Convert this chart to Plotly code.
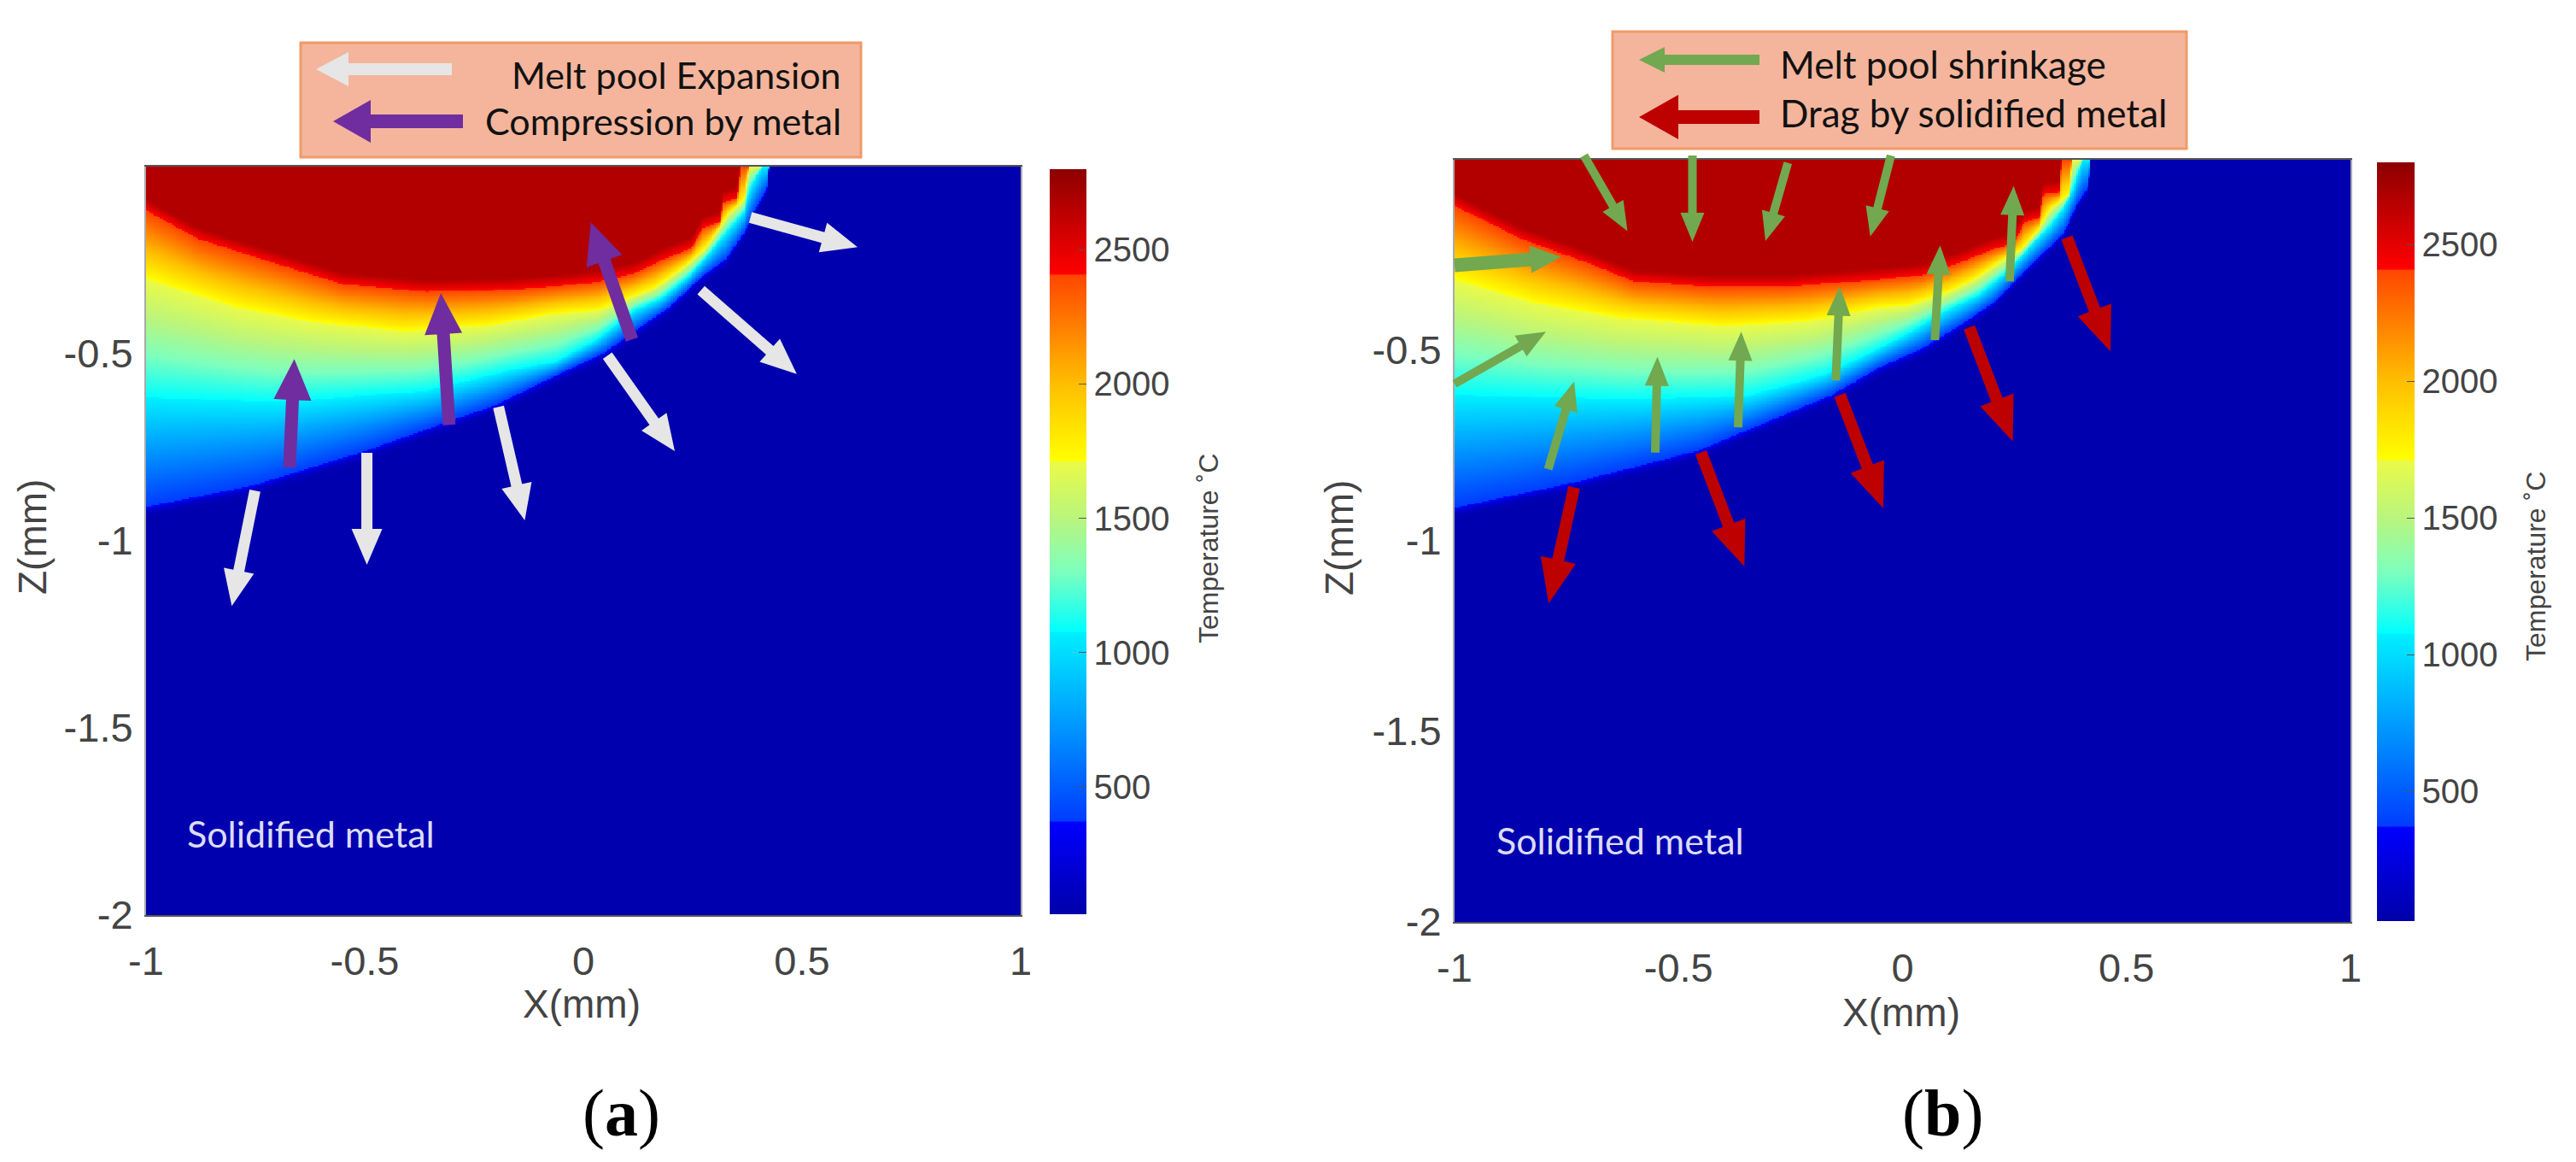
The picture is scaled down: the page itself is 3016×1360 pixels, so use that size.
import numpy as np
import plotly.graph_objects as go

# ---------- data ----------
x_tick_vals = [-1, -0.5, 0, 0.5, 1]
x_tick_text = ["-1", "-0.5", "0", "0.5", "1"]
z_tick_vals = [-0.5, -1, -1.5, -2]
z_tick_text = ["-0.5", "-1", "-1.5", "-2"]
cb_tick_vals = [500, 1000, 1500, 2000, 2500]

# isotherm positions (X, Z) in mm, panel a
a_red_x = [-1, -.88, -.70, -.55, -.36, -.17, -.064, .033, .117, .184, .248, .273, .313, .320, .352, .359]
a_red_z = [-.117, -.194, -.26, -.314, -.334, -.329, -.320, -.308, -.285, -.247, -.217, -.164, -.148, -.096, -.084, 0]
a_yel_x = [-1, -.79, -.62, -.41, -.22, -.064, .033, .098, .164, .229, .281, .307, .332, .369, .379]
a_yel_z = [-.30, -.377, -.415, -.44, -.425, -.393, -.384, -.354, -.324, -.269, -.217, -.171, -.126, -.087, 0]
a_cya_x = [-1, -.7, -.36, -.17, -.064, .033, .117, .176, .242, .287, .326, .369, .379, .408]
a_cya_z = [-.617, -.63, -.60, -.545, -.521, -.461, -.384, -.354, -.292, -.233, -.178, -.119, -.064, 0]
a_blu_x = [-1, -.757, -.504, -.2, -.064, .047, .131, .195, .273, .326, .371, .391, .420, .424]
a_blu_z = [-.91, -.853, -.762, -.637, -.559, -.498, -.429, -.377, -.292, -.247, -.171, -.119, -.057, 0]

# isotherm positions (X, Z) in mm, panel b
b_red_x = [-1, -.855, -.70, -.6, -.43, -.26, -.052, .043, .125, .201, .247, .272, .306, .314, .352, .354]
b_red_z = [-.12, -.206, -.272, -.319, -.333, -.333, -.314, -.303, -.271, -.235, -.220, -.164, -.152, -.090, -.085, 0]
b_yel_x = [-1, -.82, -.634, -.396, -.21, -.052, .011, .100, .157, .214, .266, .304, .329, .371, .380]
b_yel_z = [-.314, -.376, -.414, -.437, -.423, -.388, -.383, -.348, -.316, -.271, -.235, -.182, -.130, -.092, 0]
b_cya_x = [-1, -.6, -.345, -.175, -.052, .030, .094, .171, .234, .291, .329, .361, .380, .401]
b_cya_z = [-.617, -.63, -.62, -.565, -.495, -.444, -.399, -.354, -.294, -.220, -.175, -.123, -.078, 0]
b_blu_x = [-1, -.736, -.455, -.157, -.052, .043, .125, .201, .258, .310, .361, .386, .415, .420]
b_blu_z = [-.914, -.848, -.763, -.617, -.545, -.496, -.437, -.377, -.309, -.249, -.191, -.123, -.070, 0]

iso_values = [2670, 2408, 1712, 1076, 370, 120, 40]

# arrows: tail X, tail Z, tip X, tip Z (mm)
a_white = [(-.751, -.866, -.804, -1.174), (-.495, -.765, -.495, -1.064), (-.194, -.642, -.134, -.945),
           (.055, -.505, .209, -.760), (.269, -.330, .488, -.554), (.382, -.136, .627, -.215)]
a_purple = [(-.672, -.804, -.661, -.514), (-.307, -.690, -.326, -.338), (.111, -.462, .017, -.149)]
b_green = [(-.711, .011, -.614, -.187), (-.469, .011, -.469, -.215), (-.256, -.008, -.306, -.213),
           (-.026, .011, -.072, -.201), (-1, -.588, -.796, -.451),
           (-.791, -.812, -.733, -.582), (-.552, -.768, -.547, -.517), (-.367, -.702, -.360, -.451),
           (-.149, -.579, -.140, -.333), (.072, -.473, .084, -.225), (.239, -.319, .248, -.069)]
b_green_thick = [(-1, -.277, -.762, -.255)]
b_red = [(-.733, -.860, -.79, -1.164), (-.450, -.768, -.353, -1.067), (-.140, -.617, -.043, -.914),
         (.149, -.440, .246, -.739), (.367, -.204, .464, -.503)]

a_legend_labels = ["Melt pool Expansion", "Compression by metal"]
b_legend_labels = ["Melt pool shrinkage", "Drag by solidified metal"]

# ---------- layout constants (pixels) ----------
W, H = 3016, 1360
A = dict(l=171, r=1195, t=195, b=1071, cl=1229, cr=1272, ct=198, cb=1070)
B = dict(l=1703, r=2752, t=187, b=1079, cl=2783, cr=2827, ct=190, cb=1078)
ZMIN, ZMAX = 25, 2800
WHITE, PURPLE, GREEN, RED = "#e6e6e6", "#6f2da0", "#72a84f", "#bd0000"
SANS, LEG = "Liberation Sans", "Lato"
GREY = "#444444"


def n(v):
    return (v - ZMIN) / (ZMAX - ZMIN)


colorscale = [
    [0, "rgb(0,0,170)"], [n(369), "rgb(0,0,255)"], [n(371), "rgb(0,60,255)"],
    [n(1075), "rgb(0,240,255)"], [n(1077), "rgb(0,255,255)"], [n(1300), "rgb(125,255,190)"],
    [n(1500), "rgb(185,245,125)"], [n(1710), "rgb(235,250,70)"], [n(1713), "rgb(255,255,0)"],
    [n(2000), "rgb(255,190,0)"], [n(2406), "rgb(255,70,0)"], [n(2409), "rgb(255,0,0)"],
    [1, "rgb(140,0,0)"],
]


def field(rx, rz, yx, yz, cx, cz, bx, bz):
    xs = np.linspace(-1, 1, 601)
    ds = np.linspace(0.0015, 2, 500)
    red = -np.interp(xs, rx, rz)
    yel = -np.interp(xs, yx, yz)
    cya = -np.interp(xs, cx, cz)
    blu = -np.interp(xs, bx, bz)
    out = np.zeros((ds.size, xs.size), dtype=int)
    for j in range(xs.size):
        pts = [max(red[j] - .03, 0), red[j], yel[j], cya[j], blu[j], blu[j] + .012, blu[j] + .03]
        pts = np.maximum.accumulate(np.array(pts) + np.arange(7) * 1e-5)
        if blu[j] <= 0:
            out[:, j] = iso_values[-1]
        else:
            out[:, j] = np.interp(ds, pts, iso_values).astype(int)
    return xs, -ds, out


def heat(fieldvals, P, xname, yname):
    xs, ys, zz = fieldvals
    return go.Heatmap(
        x=xs, y=ys, z=zz, zmin=ZMIN, zmax=ZMAX, colorscale=colorscale, xaxis=xname, yaxis=yname,
        hoverinfo="skip",
        colorbar=dict(
            x=P["cl"] / W, xanchor="left", xref="paper", yref="paper",
            y=1 - P["cb"] / H, yanchor="bottom", lenmode="fraction", len=(P["cb"] - P["ct"]) / H,
            thicknessmode="pixels", thickness=P["cr"] - P["cl"], xpad=0, ypad=0, outlinewidth=0,
            tickvals=cb_tick_vals, ticks="inside", ticklen=9, tickcolor="#555", tickwidth=1,
            tickfont=dict(family=SANS, size=40, color=GREY),
        ),
    )


def polygon(x0, y0, x1, y1, shaft, hw, hl):
    """Arrow outline in paper-fraction coordinates from two pixel points."""
    d = np.hypot(x1 - x0, y1 - y0)
    ux, uy = (x1 - x0) / d, (y1 - y0) / d
    px, py = -uy, ux
    bx, by = x1 - ux * hl, y1 - uy * hl
    pts = [(x0 + px * shaft / 2, y0 + py * shaft / 2), (bx + px * shaft / 2, by + py * shaft / 2),
           (bx + px * hw / 2, by + py * hw / 2), (x1, y1), (bx - px * hw / 2, by - py * hw / 2),
           (bx - px * shaft / 2, by - py * shaft / 2), (x0 - px * shaft / 2, y0 - py * shaft / 2)]
    return "M" + "L".join(f"{a / W:.5f},{1 - b / H:.5f}" for a, b in pts) + "Z"


def arrow_shape(path, color):
    return dict(type="path", path=path, xref="paper", yref="paper", fillcolor=color,
                line=dict(width=0), layer="above")


def data_arrows(P, arrows, color, shaft, hw, hl):
    sx = (P["r"] - P["l"]) / 2
    sy = (P["b"] - P["t"]) / 2
    res = []
    for x0, z0, x1, z1 in arrows:
        res.append(arrow_shape(polygon(P["l"] + (x0 + 1) * sx, P["t"] - z0 * sy,
                                       P["l"] + (x1 + 1) * sx, P["t"] - z1 * sy, shaft, hw, hl), color))
    return res


def axis_common(vals, text, dom, line, standoff):
    return dict(domain=dom, tickmode="array", tickvals=vals, ticktext=text, showgrid=False, zeroline=False,
                ticks="", tickfont=dict(family=SANS, size=47, color=GREY), showline=True, mirror=True,
                linecolor=line, linewidth=2, automargin=False, ticklabelstandoff=standoff)


fig = go.Figure()
fig.add_trace(heat(field(a_red_x, a_red_z, a_yel_x, a_yel_z, a_cya_x, a_cya_z, a_blu_x, a_blu_z), A, "x", "y"))
fig.add_trace(heat(field(b_red_x, b_red_z, b_yel_x, b_yel_z, b_cya_x, b_cya_z, b_blu_x, b_blu_z), B, "x2", "y2"))

shapes = []
# legend boxes
for (l, t, r, b) in [(352, 50, 1008, 184), (1888, 37, 2560, 174)]:
    shapes.append(dict(type="rect", xref="paper", yref="paper", x0=l / W, x1=r / W, y0=1 - b / H, y1=1 - t / H,
                       fillcolor="#f4b59c", line=dict(color="#f09a68", width=3), layer="above"))
shapes += data_arrows(A, a_white, WHITE, 13, 36, 42)
shapes += data_arrows(A, a_purple, PURPLE, 15, 44, 48)
shapes += data_arrows(B, b_green, GREEN, 10, 28, 34)
shapes += data_arrows(B, b_green_thick, GREEN, 16, 32, 36)
shapes += data_arrows(B, b_red, RED, 14, 42, 52)
# legend arrows
shapes.append(arrow_shape(polygon(529, 81, 370, 81, 14, 40, 38), WHITE))
shapes.append(arrow_shape(polygon(542, 142, 390, 142, 16, 50, 44), PURPLE))
shapes.append(arrow_shape(polygon(2060, 70, 1919, 70, 12, 30, 30), GREEN))
shapes.append(arrow_shape(polygon(2060, 137, 1919, 137, 16, 52, 46), RED))

ann = []


def text(t, x, y, size, color="#111", fam=SANS, anchor="center", angle=0):
    ann.append(dict(text=t, x=x / W, y=1 - y / H, xref="paper", yref="paper", showarrow=False, xanchor=anchor,
                    yanchor="middle", textangle=angle, font=dict(family=fam, size=size, color=color)))


text(a_legend_labels[0], 987, 87, 43, anchor="right", fam=LEG)
text(a_legend_labels[1], 987, 142, 43, anchor="right", fam=LEG)
text(b_legend_labels[0], 2082, 75, 44, anchor="left", fam=LEG)
text(b_legend_labels[1], 2082, 132, 44, anchor="left", fam=LEG)
text("Solidified metal", 217, 975, 43, color="#dcdcf8", anchor="left", fam=LEG)
text("Solidified metal", 1750, 983, 43, color="#dcdcf8", anchor="left", fam=LEG)
text("X(mm)", 681, 1175, 46, color=GREY)
text("X(mm)", 2226, 1185, 46, color=GREY)
text("Z(mm)", 38, 629, 46, color=GREY, angle=-90)
text("Z(mm)", 1568, 630, 46, color=GREY, angle=-90)
text("Temperature ˚C", 1415, 642, 32, color=GREY, angle=-90)
text("Temperature ˚C", 2969, 663, 32, color=GREY, angle=-90)
text("(<b>a</b>)", 727, 1302, 78, color="#000", fam="Liberation Serif")
text("(<b>b</b>)", 2274, 1302, 78, color="#000", fam="Liberation Serif")

fig.update_layout(
    width=W, height=H, margin=dict(l=0, r=0, t=0, b=0, autoexpand=False), paper_bgcolor="white", plot_bgcolor="white",
    shapes=shapes, annotations=ann, showlegend=False,
    xaxis=dict(axis_common(x_tick_vals, x_tick_text, [A["l"] / W, A["r"] / W], "#555", 12), anchor="y", range=[-1, 1]),
    yaxis=dict(axis_common(z_tick_vals, z_tick_text, [1 - A["b"] / H, 1 - A["t"] / H], "#aaa", 4), anchor="x", range=[-2, 0]),
    xaxis2=dict(axis_common(x_tick_vals, x_tick_text, [B["l"] / W, B["r"] / W], "#555", 12), anchor="y2", range=[-1, 1]),
    yaxis2=dict(axis_common(z_tick_vals, z_tick_text, [1 - B["b"] / H, 1 - B["t"] / H], "#aaa", 4), anchor="x2", range=[-2, 0]),
)
fig.write_html("out.html", config={"displayModeBar": False}, post_script="document.body.style.margin='0';")
